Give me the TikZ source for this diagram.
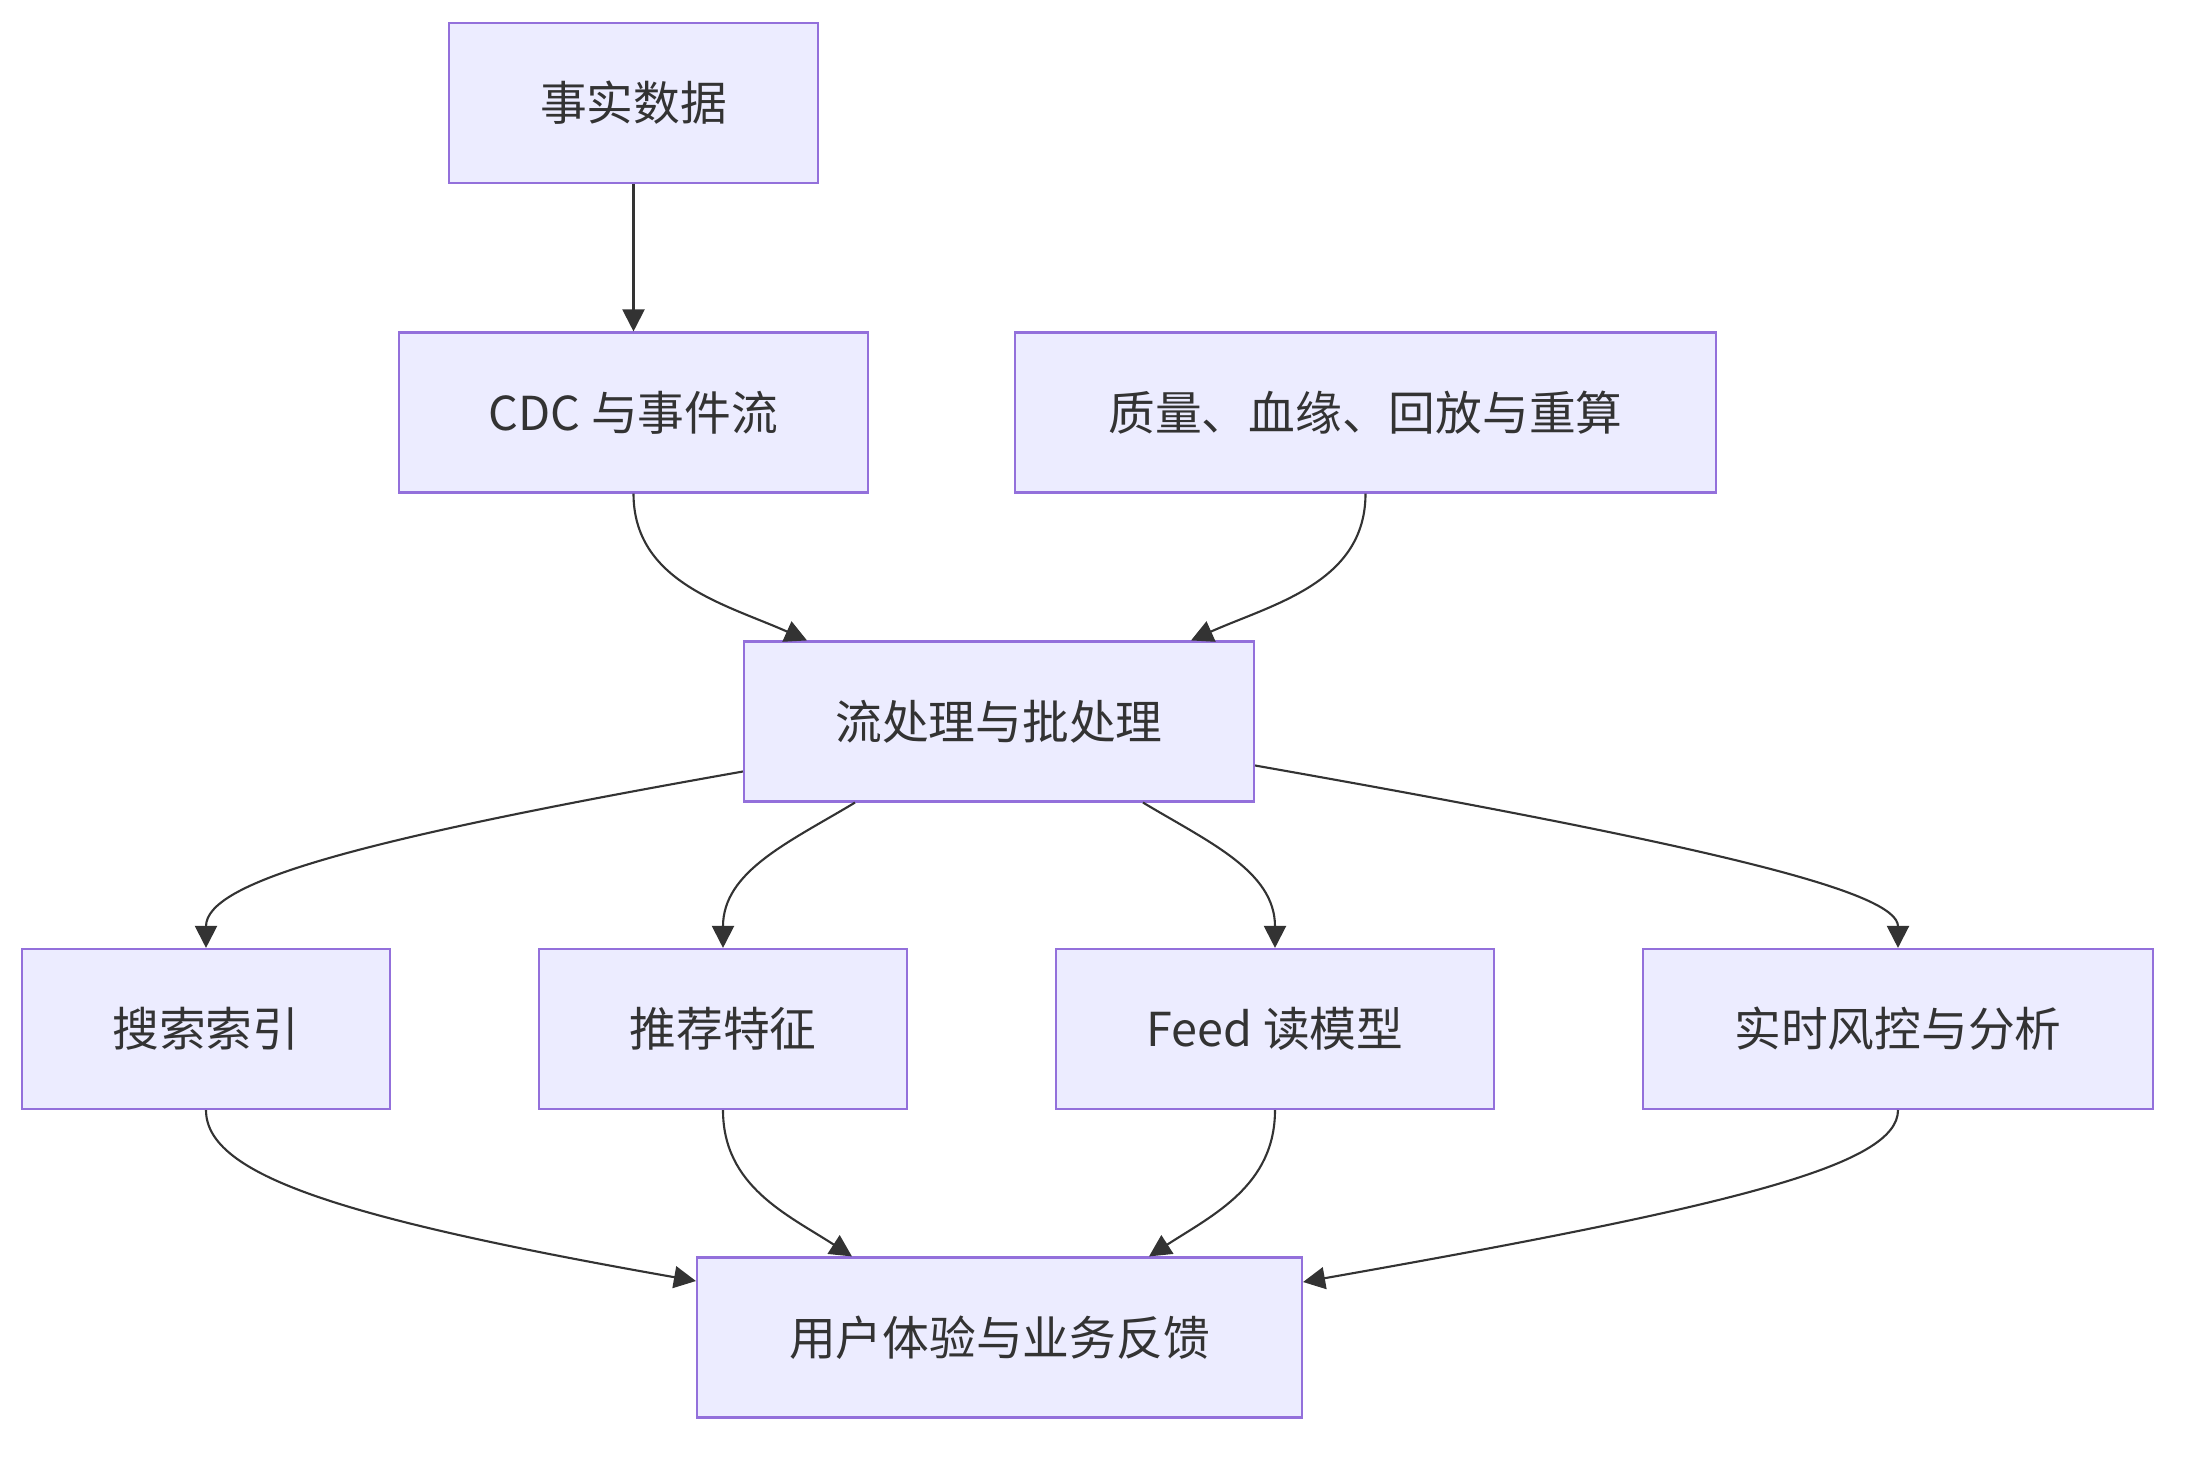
\documentclass[tikz,border=0pt]{standalone}
\usepackage{fontspec}
\setmainfont{Noto Sans CJK SC}
\usepackage{tikz}
\usetikzlibrary{positioning, arrows.meta, calc}
\definecolor{boxfill}{HTML}{ECECFF}
\definecolor{boxline}{HTML}{9370DB}
\definecolor{ink}{HTML}{333333}
\tikzset{
  box/.style={draw=boxline, fill=boxfill, line width=0.6pt, minimum height=1.6cm, inner sep=0pt, text=ink},
  flow/.style={draw=ink, line width=0.6pt, ->}
}

\begin{document}
\begin{tikzpicture}[font=\fontsize{13.3}{16}\selectfont, >={Triangle[length=2.2mm, width=2.2mm]}]
  \useasboundingbox (0,0) rectangle (22.02,-14.58);
  % sources
  \node[box, minimum width=3.69cm] (fact) at (6.335,-1.03) {事实数据};
  \node[box, minimum width=4.69cm] (cdc) at (6.335,-4.125) {CDC 与事件流};
  \node[box, minimum width=7.01cm] (qual) at (13.655,-4.125) {质量、血缘、回放与重算};
  \node[box, minimum width=5.10cm] (proc) at (9.99,-7.215) {流处理与批处理};
  % read models
  \node[box, minimum width=3.68cm] (search) at (2.06,-10.29) {搜索索引};
  \node[box, minimum width=3.68cm] (rec) at (7.23,-10.29) {推荐特征};
  \node[box, minimum width=4.38cm] (feed) at (12.75,-10.29) {Feed 读模型};
  \node[box, minimum width=5.10cm] (risk) at (18.98,-10.29) {实时风控与分析};
  \node[box, minimum width=6.05cm] (ux) at (9.995,-13.375) {用户体验与业务反馈};

  \draw[flow] (fact) -- (cdc);
  \draw[flow] (cdc.south) to[out=-90, in=156] ([xshift=-1.92cm]proc.north);
  \draw[flow] (qual.south) to[out=-90, in=24] ([xshift=1.92cm]proc.north);
  % fan out
  \draw[flow] ([yshift=-0.5cm]proc.west) to[out=190, in=90, out distance=4cm, in distance=0.65cm] (search.north);
  \draw[flow] ([xshift=-1.44cm]proc.south) to[out=211, in=90] (rec.north);
  \draw[flow] ([xshift=1.44cm]proc.south) to[out=-31, in=90] (feed.north);
  \draw[flow] ([yshift=-0.44cm]proc.east) to[out=-10, in=90, out distance=4.8cm, in distance=0.55cm] (risk.north);
  % fan in
  \draw[flow] (search.south) to[out=-90, in=170, out distance=0.65cm, in distance=3.6cm] ([yshift=0.565cm]ux.west);
  \draw[flow] (rec.south) to[out=-90, in=147] ([xshift=-1.475cm]ux.north);
  \draw[flow] (feed.south) to[out=-90, in=33] ([xshift=1.495cm]ux.north);
  \draw[flow] (risk.south) to[out=-90, in=10, out distance=0.55cm, in distance=4.4cm] ([yshift=0.555cm]ux.east);
\end{tikzpicture}
\end{document}
